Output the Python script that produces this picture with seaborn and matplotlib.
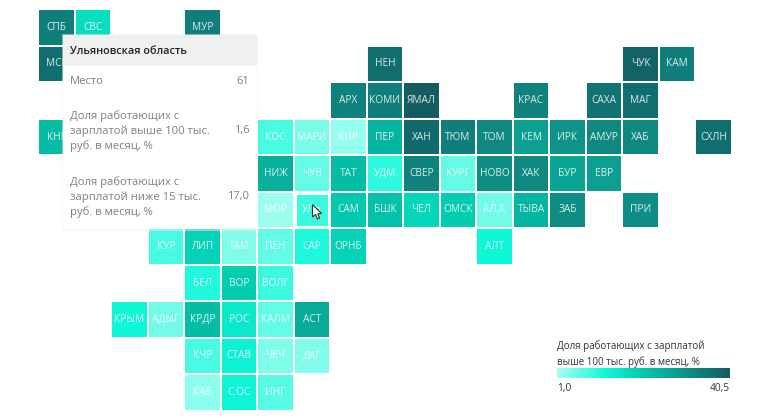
import numpy as np
import pandas as pd
import matplotlib
matplotlib.use("Agg")
import matplotlib.pyplot as plt
import seaborn as sns
from matplotlib.colors import LinearSegmentedColormap
from matplotlib.patches import Rectangle, Polygon

regions = ["СПБ", "СВС", "МУР", "МСК", "НЕН", "ЧУК", "КАМ",
           "АРХ", "КОМИ", "ЯМАЛ", "КРАС", "САХА", "МАГ",
           "КНГ", "КОС", "МАРИ", "КИР", "ПЕР", "ХАН", "ТЮМ", "ТОМ", "КЕМ", "ИРК", "АМУР", "ХАБ", "СХЛН",
           "НИЖ", "ЧУВ", "ТАТ", "УДМ", "СВЕР", "КУРГ", "НОВО", "ХАК", "БУР", "ЕВР",
           "МОР", "УЛЬ", "САМ", "БШК", "ЧЕЛ", "ОМСК", "АЛ.К", "ТЫВА", "ЗАБ", "ПРИ",
           "КУР", "ЛИП", "ТАМ", "ПЕН", "САР", "ОРНБ", "АЛТ",
           "БЕЛ", "ВОР", "ВОЛГ",
           "КРЫМ", "АДЫГ", "КРДР", "РОС", "КАЛМ", "АСТ",
           "КЧР", "СТАВ", "ЧЕЧ", "ДАГ",
           "КАБ", "С.ОС", "ИНГ"]
grid_row = [0, 0, 0, 1, 1, 1, 1,
            2, 2, 2, 2, 2, 2,
            3, 3, 3, 3, 3, 3, 3, 3, 3, 3, 3, 3, 3,
            4, 4, 4, 4, 4, 4, 4, 4, 4, 4,
            5, 5, 5, 5, 5, 5, 5, 5, 5, 5,
            6, 6, 6, 6, 6, 6, 6,
            7, 7, 7,
            8, 8, 8, 8, 8, 8,
            9, 9, 9, 9,
            10, 10, 10]
grid_col = [0, 1, 4, 0, 9, 16, 17,
            8, 9, 10, 13, 15, 16,
            0, 6, 7, 8, 9, 10, 11, 12, 13, 14, 15, 16, 18,
            6, 7, 8, 9, 10, 11, 12, 13, 14, 15,
            6, 7, 8, 9, 10, 11, 12, 13, 14, 16,
            3, 4, 5, 6, 7, 8, 12,
            4, 5, 6,
            2, 3, 4, 5, 6, 7,
            4, 5, 6, 7,
            4, 5, 6]
share_100k = [34, 17, 34, 37, 37, 39, 34,
              33, 34, 40.5, 33, 36, 37,
              23, 8, 4.5, 2.5, 24, 38, 34, 32, 28, 30, 32, 32, 37,
              25, 6, 23, 10, 33, 6, 31, 32, 27, 28,
              1.8, 9, 21, 22, 18, 20, 5, 24, 31, 31,
              8, 19, 4, 6, 11, 19, 12,
              11, 20, 9,
              12, 5, 23, 15, 6, 26,
              8, 13, 4, 4,
              3, 12.5, 7]

tooltip_title = "Ульяновская область"
tooltip_rows = [("Место", "61", 82),
                ("Доля работающих с\nзарплатой выше 100 тыс.\nруб. в месяц, %", "1,6", 131),
                ("Доля работающих с\nзарплатой ниже 15 тыс.\nруб. в месяц, %", "17,0", 197)]
legend_title = "Доля работающих с зарплатой\nвыше 100 тыс. руб. в месяц, %"
legend_ticks = [1.0, 40.5]
legend_labels = ["1,0", "40,5"]

W, H = 770, 420

sns.set_theme(style="white")
plt.rcParams['font.family'] = ['Open Sans', 'DejaVu Sans']


def px_axes(fig, x0, y0, x1, y1):
    return fig.add_axes([x0 / W, 1 - y1 / H, (x1 - x0) / W, (y1 - y0) / H])


df = pd.DataFrame({"row": grid_row, "col": grid_col, "label": regions, "share": share_100k})
all_rows = range(11)
all_cols = range(19)
values = df.pivot(index="row", columns="col", values="share").reindex(index=all_rows, columns=all_cols)
labels = df.pivot(index="row", columns="col", values="label").reindex(index=all_rows, columns=all_cols).fillna("")

cmap = LinearSegmentedColormap.from_list("share", [(0, "#a8fff1"), (0.28, "#0ff7d8"),
                                                   (0.5, "#02c9ae"), (0.75, "#0e8f86"),
                                                   (1, "#135c62")])

fig = plt.figure(figsize=(W / 100, H / 100), dpi=100, facecolor="white")
ax = px_axes(fig, 38.25, 9.25, 731.75, 410.75)
cax = px_axes(fig, 557, 368, 730, 378)

sns.heatmap(values, ax=ax, cmap=cmap, vmin=1.0, vmax=40.5, annot=labels, fmt="",
            annot_kws={"fontsize": 7.3, "color": (1, 1, 1, 0.85)},
            linewidths=1.1, linecolor="white", xticklabels=False, yticklabels=False,
            cbar_ax=cax, cbar_kws={"orientation": "horizontal", "ticks": legend_ticks})
ax.set_xlabel("")
ax.set_ylabel("")
# hovered cell gets a thick inner white border
ax.add_patch(Rectangle((7.04, 5.04), 0.92, 0.92, fill=False, ec="white", lw=2.2, zorder=3))

cbar = ax.collections[0].colorbar
cbar.outline.set_visible(False)
cax.tick_params(length=0, pad=3.5)
cax.set_xticklabels(legend_labels, fontsize=7.3, color="#333333")
cax.get_xticklabels()[0].set_ha("left")
cax.get_xticklabels()[1].set_ha("right")

# overlay in pixel coordinates for tooltip, cursor and legend title
over = fig.add_axes([0, 0, 1, 1], zorder=5)
over.set_xlim(0, W)
over.set_ylim(H, 0)
over.axis("off")
over.patch.set_alpha(0)

over.add_patch(Rectangle((62, 34), 196, 196.5, fc="#eeeeee", ec="none", alpha=0.5))
over.add_patch(Rectangle((63, 35), 194, 194, fc="#ffffff", ec="none"))
over.add_patch(Rectangle((63, 35), 194, 31, fc="#f0f0f0", ec="none"))
over.text(70, 51.5, tooltip_title, fontsize=7.8, fontweight="semibold", color="#222222", va="center")
for name, val, y in tooltip_rows:
    over.text(70, y, name, fontsize=8.1, color="#808080", va="center", linespacing=1.42)
    over.text(249.5, y, val, fontsize=8.0, color="#808080", va="center", ha="right")

cursor = [(312.5, 204.5), (312.5, 217), (315.5, 214.5), (317.5, 219), (319.5, 218),
          (317.8, 213.8), (321.5, 213.5)]
over.add_patch(Polygon(cursor, closed=True, fc="white", ec="#333333", lw=0.8))

over.text(557, 354, legend_title, fontsize=7.0, color="#333333", va="center", linespacing=1.45)

fig.savefig("out.png", dpi=100)
